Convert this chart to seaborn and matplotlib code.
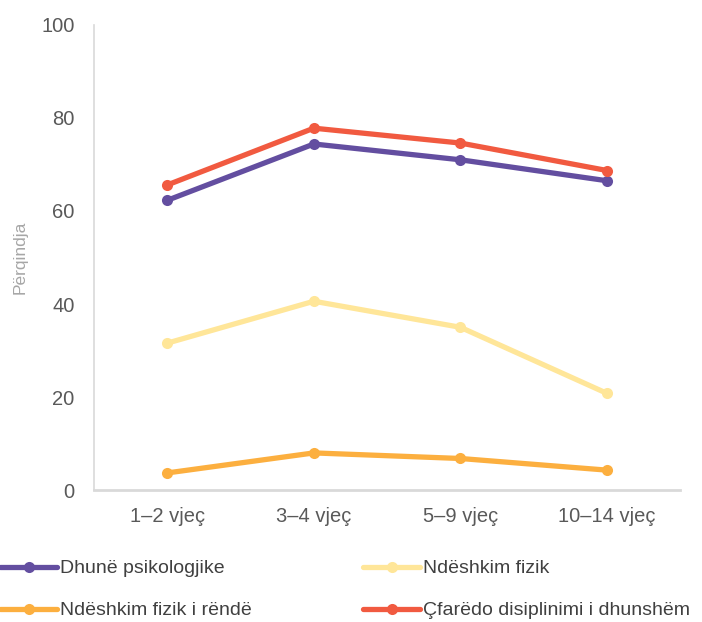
import numpy as np
import pandas as pd
import matplotlib
matplotlib.use("Agg")
import matplotlib.pyplot as plt
import seaborn as sns
from matplotlib.lines import Line2D

# data
age_groups = ["1–2 vjeç", "3–4 vjeç", "5–9 vjeç", "10–14 vjeç"]
series_names = [
    "Dhunë psikologjike",
    "Ndëshkim fizik",
    "Ndëshkim fizik i rëndë",
    "Çfarëdo disiplinimi i dhunshëm",
]
psych = [62.3, 74.4, 71.0, 66.5]
physical = [31.6, 40.6, 35.0, 20.8]
severe = [3.7, 8.0, 6.8, 4.3]
any_violent = [65.6, 77.8, 74.6, 68.7]
colors = ["#634EA0", "#FFE699", "#FCAF3F", "#F15A40"]
y_ticks = [0, 20, 40, 60, 80, 100]

df = pd.DataFrame({
    "age": age_groups * 4,
    "series": np.repeat(series_names, len(age_groups)),
    "value": psych + physical + severe + any_violent,
})

sns.set_theme(style="white")
plt.rcParams["font.family"] = ["Liberation Sans", "DejaVu Sans"]

fig = plt.figure(figsize=(7.02, 6.22), dpi=100)
ax = fig.add_axes([0.134, 0.212, 0.835, 0.748])

# draw so red ends on top, as in the reference
draw_order = [2, 1, 0, 3]
for i in draw_order:
    sub = df[df["series"] == series_names[i]]
    sns.lineplot(data=sub, x="age", y="value", color=colors[i], linewidth=3.8,
                 marker="o", markersize=8, markeredgewidth=0, ax=ax,
                 sort=False, legend=False)

ax.set_xlim(-0.5, 3.5)
ax.set_ylim(0, 100)
ax.set_yticks(y_ticks)
ax.tick_params(axis="both", length=0, labelsize=14.5, colors="#595959")
ax.tick_params(axis="y", pad=14)
ax.tick_params(axis="x", pad=12)
ax.set_xlabel("")
ax.set_ylabel("Përqindja", color="#A6A6A6", fontsize=12.5)
ax.yaxis.set_label_coords(-0.113, 0.5)

for side in ["top", "right"]:
    ax.spines[side].set_visible(False)
ax.spines["left"].set_color("#D9D9D9")
ax.spines["left"].set_linewidth(1.2)
ax.spines["bottom"].set_color("#D9D9D9")
ax.spines["bottom"].set_linewidth(2)

# legend filled row by row like the reference
leg_order = [0, 2, 1, 3]
handles = [Line2D([0], [0], color=colors[i], linewidth=3.8, marker="o", markersize=8,
                  markeredgewidth=0) for i in leg_order]
labels = [series_names[i] for i in leg_order]
fig.legend(handles, labels, loc="upper left", bbox_to_anchor=(0.0, 0.1),
           ncol=2, frameon=False, fontsize=14, handlelength=2.95, handletextpad=0.15,
           columnspacing=5.7, labelspacing=1.25, borderpad=0, borderaxespad=0,
           labelcolor="#404040")

fig.savefig("out.png", dpi=100)
